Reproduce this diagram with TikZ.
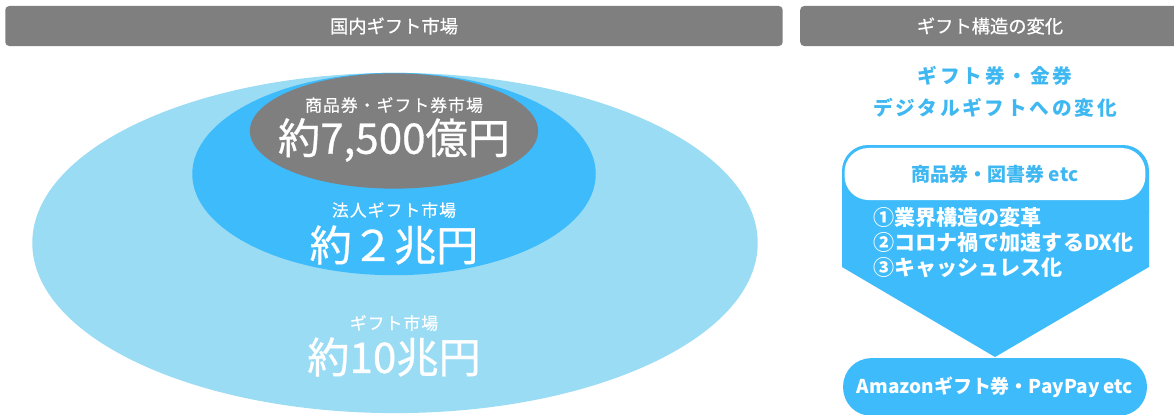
\documentclass[tikz,border=0pt]{standalone}
\usepackage{fontspec}
\setmainfont{Noto Sans CJK JP}
\usetikzlibrary{shapes.geometric}

\definecolor{headgray}{HTML}{7F7F7F}
\definecolor{paleblue}{HTML}{9BDCF5}
\definecolor{giftblue}{HTML}{3EBBFB}
\definecolor{textblue}{HTML}{3FB8F2}

\begin{document}
\begin{tikzpicture}[
	x=0.25mm, y=-0.25mm,
	header/.style={
		rectangle,
		fill=headgray,
		rounded corners=1mm,
		text=white,
		font=\fontsize{13}{15}\selectfont\addfontfeature{FakeBold=0.6},
		minimum height=28.5pt,
		inner sep=0pt
	},
	market/.style={
		ellipse,
		inner sep=0pt
	},
	caption/.style={
		text=white,
		inner sep=0pt,
		font=\fontsize{12}{14}\selectfont\addfontfeature{LetterSpace=6,FakeBold=0.4}
	},
	amount/.style={
		text=white,
		inner sep=0pt,
		font=\fontsize{30}{34}\selectfont\addfontfeature{FakeBold=0.7}
	},
	pill/.style={
		rectangle,
		rounded corners=6mm,
		align=center,
		inner sep=0pt,
		font=\bfseries\fontsize{13.5}{16}\selectfont
	},
]

\useasboundingbox (0,0) rectangle (1174,414);

% headers
\node[header, minimum width=553pt] (hmarket) at (394,26) {国内ギフト市場};
\node[header, minimum width=270pt] (hchange) at (990,26) {ギフト構造の変化};

% market ellipses
\node[market, fill=paleblue, minimum width=516pt, minimum height=242pt] (total) at (395,243) {};
\node[market, fill=giftblue, minimum width=287pt, minimum height=144pt] (corp) at (394,174) {};
\node[market, fill=headgray, minimum width=205pt, minimum height=82pt] (ticket) at (394,131) {};

\node[caption] (ticketcap) at (394,105) {商品券・ギフト券市場};
\node[amount] (ticketval) at (394,140) {約7,500億円};
\node[caption] (corpcap) at (394,210) {法人ギフト市場};
\node[amount] (corpval) at (394,245) {約２兆円};
\node[caption] (totalcap) at (394,323) {ギフト市場};
\node[amount] (totalval) at (394,357) {約10兆円};

% change to digital
\node[text=textblue, align=center, inner sep=0pt,
	font=\bfseries\fontsize{14}{22.5}\selectfont\addfontfeature{LetterSpace=14}]
	(trend) at (995,92) {ギフト券・金券\\デジタルギフトへの変化};

\fill[giftblue, rounded corners=6.5mm] (842,145) rectangle (1149,240);
\fill[giftblue] (842,200) -- (1149,200) -- (1149,267) -- (995,357) -- (842,267) -- cycle;

\node[pill, fill=white, text=textblue, minimum width=214pt, minimum height=37pt] (paper) at (995,174) {商品券・図書券 etc};

\node[text=white, align=left, anchor=north west, inner sep=0pt,
	font=\bfseries\fontsize{15}{17.8}\selectfont]
	(reasons) at (873,207) {①業界構造の変革\\②コロナ禍で加速するDX化\\③キャッシュレス化};

\node[pill, fill=giftblue, text=white, minimum width=216pt, minimum height=41pt, rounded corners=7mm] (digital) at (995,387) {Amazonギフト券・PayPay etc};

\end{tikzpicture}
\end{document}
